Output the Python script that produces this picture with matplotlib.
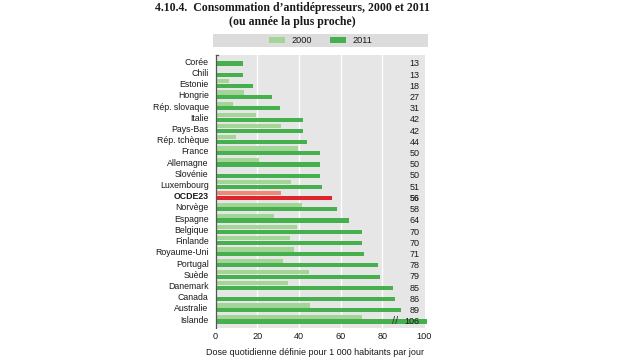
import matplotlib.pyplot as plt
from matplotlib import font_manager
from matplotlib.patches import Patch, Rectangle

# Data
countries = ["Corée", "Chili", "Estonie", "Hongrie", "Rép. slovaque", "Italie",
             "Pays-Bas", "Rép. tchèque", "France", "Allemagne", "Slovénie",
             "Luxembourg", "OCDE23", "Norvège", "Espagne", "Belgique", "Finlande",
             "Royaume-Uni", "Portugal", "Suède", "Danemark", "Canada",
             "Australie", "Islande"]
val_2000 = [0, 0, 6.4, 13.4, 8.5, 19.6, 31.5, 9.6, 39.5, 20.8, 0, 36.3,
            31.3, 41.4, 28.1, 38.8, 35.6, 37.7, 32.4, 44.9, 34.7, 0, 45.4, 70.4]
val_2011 = [13, 13, 18, 27, 31, 42, 42, 44, 50, 50, 50, 51,
            56, 58, 64, 70, 70, 71, 78, 79, 85, 86, 89, 106]
xticks = [0, 20, 40, 60, 80, 100]
XMAX = 100.6

LIGHT = "#a3d597"
DARK = "#45b04d"
LIGHT_RED = "#f08878"
RED = "#e0242b"
BG = "#e6e6e6"

# narrow sans if available, else Arial-like
installed = {f.name for f in font_manager.fontManager.ttflist}
label_font = "Liberation Sans Narrow" if "Liberation Sans Narrow" in installed else "Liberation Sans"
plt.rcParams['font.family'] = [label_font, 'DejaVu Sans']
FS = 7.3 if label_font == "Liberation Sans Narrow" else 6.3
TXT = "#1a1a1a"

fig = plt.figure(figsize=(6.35, 3.57), dpi=100)
ax = fig.add_axes([0.3395, 0.081, 0.3305, 0.765])
ax.set_facecolor(BG)

for i, (name, a, b) in enumerate(zip(countries, val_2000, val_2011)):
    oecd = name == "OCDE23"
    c1 = LIGHT_RED if oecd else LIGHT
    c2 = RED if oecd else DARK
    if a > 0:
        ax.barh(i - 0.21, a, height=0.37, color=c1, zorder=2)
    ax.barh(i + 0.21, min(b, 101.5), height=0.37, color=c2, zorder=2, clip_on=False)
    ax.text(97.8, i + 0.24, str(b), ha="right", va="center", fontsize=FS + 0.2,
            color=TXT, fontweight="bold" if oecd else "normal", zorder=4)

# axis break mark on the Islande bar
ax.text(86, len(countries) - 1 + 0.2, "//", ha="center", va="center",
        fontsize=8, color="#333333", zorder=3)

ax.set_xlim(0, XMAX)
ax.set_ylim(23.8, -0.55)
ax.set_yticks(range(len(countries)))
ax.set_yticklabels(countries, fontsize=FS, color=TXT)
for lbl in ax.get_yticklabels():
    if lbl.get_text() == "OCDE23":
        lbl.set_fontweight("bold")
ax.set_xticks(xticks)
ax.set_xticklabels([str(t) for t in xticks], fontsize=FS + 0.3, color=TXT)
ax.tick_params(axis="both", length=0, pad=3)
ax.tick_params(axis="y", pad=5)
for xv in xticks[1:-1]:
    ax.axvline(xv, color="white", lw=0.9, zorder=1)
for s in ["top", "right", "bottom"]:
    ax.spines[s].set_visible(False)
ax.spines["left"].set_color("#555555")
ax.spines["left"].set_linewidth(0.9)
ax.plot([0, 1.2], [-0.55, -0.55], color="#555555", lw=0.9, clip_on=False, zorder=5)

# legend band above the plot
ax.add_patch(Rectangle((-0.01, 1.03), 1.02, 0.045, transform=ax.transAxes,
                       facecolor="#dcdcdc", edgecolor="none", clip_on=False))
handles = [Patch(facecolor=LIGHT, label="2000"), Patch(facecolor=DARK, label="2011")]
ax.legend(handles=handles, loc="center", bbox_to_anchor=(0.5, 1.052), ncol=2,
          frameon=False, fontsize=FS + 0.3, handlelength=1.7, handleheight=0.55,
          columnspacing=2.0, handletextpad=0.7, borderpad=0, labelcolor=TXT)

fig.text(0.46, 0.977, "4.10.4.  Consommation d\u2019antidépresseurs, 2000 et 2011",
         ha="center", va="center", fontsize=8.5, fontweight="bold",
         family=["Liberation Serif", "DejaVu Serif"], color=TXT)
fig.text(0.46, 0.937, "(ou année la plus proche)", ha="center", va="center",
         fontsize=8.5, fontweight="bold",
         family=["Liberation Serif", "DejaVu Serif"], color=TXT)
fig.text(0.667, 0.014, "Dose quotidienne définie pour 1 000 habitants par jour",
         ha="right", va="center", fontsize=FS + 0.2, color=TXT)

fig.savefig("out.png", dpi=100)
